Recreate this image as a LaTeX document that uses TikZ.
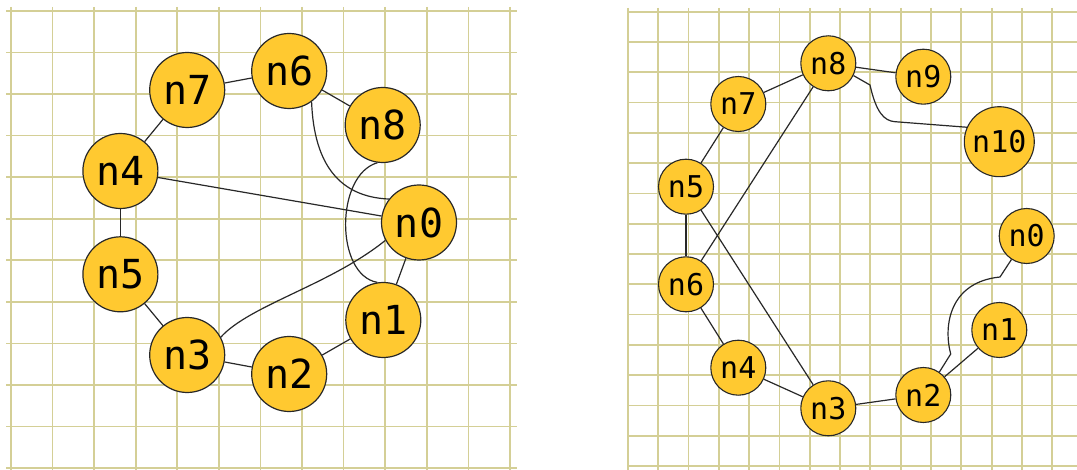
\documentclass[tikz,border=0pt]{standalone}
\usepackage{fontspec}
\setmonofont{DejaVu Sans Mono}
\definecolor{gridc}{RGB}{212,207,150}
\definecolor{nodefill}{RGB}{255,201,48}
\definecolor{edgec}{RGB}{40,40,40}
\tikzset{
  gridline/.style={draw=gridc, line width=1.7pt},
  bignode/.style={circle, draw=edgec, line width=1.2pt, fill=nodefill, minimum size=75pt, inner sep=0pt, font=\fontsize{40}{40}\selectfont\ttfamily},
  smallnode/.style={circle, draw=edgec, line width=1.1pt, fill=nodefill, minimum size=55pt, inner sep=0pt, font=\fontsize{30}{30}\selectfont\ttfamily},
  edge/.style={draw=edgec, line width=1.2pt}
}
\begin{document}
\begin{tikzpicture}[x=1pt,y=-1pt]
\useasboundingbox[fill=white] (0,0) rectangle (1077,470);
% left grid
\foreach \k in {0,...,11} \draw[gridline] (6,{11+41.55*\k}) -- (517,{11+41.55*\k});
\foreach \k in {0,...,12} \draw[gridline] ({11+41.58*\k},7) -- ({11+41.58*\k},470);
% right grid
\foreach \k in {0,...,15} \draw[gridline] (627,{11.7+30.29*\k}) -- (1077,{11.7+30.29*\k});
\foreach \k in {0,...,14} \draw[gridline] ({627.7+30.33*\k},8) -- ({627.7+30.33*\k},470);

% left graph edges
\begin{scope}
\path (187.2,90) coordinate (pL7) (289.2,71) coordinate (pL6) (382.7,125) coordinate (pL8)
      (120.4,171) coordinate (pL4) (419,222.5) coordinate (pL0) (120.4,274.3) coordinate (pL5)
      (383.3,320) coordinate (pL1) (187.2,355) coordinate (pL3) (289.2,374) coordinate (pL2);
\end{scope}
\node[bignode] (L7) at (pL7) {n7};
\node[bignode] (L6) at (pL6) {n6};
\node[bignode] (L8) at (pL8) {n8};
\node[bignode] (L4) at (pL4) {n4};
\node[bignode] (L0) at (pL0) {n0};
\node[bignode] (L5) at (pL5) {n5};
\node[bignode] (L1) at (pL1) {n1};
\node[bignode] (L3) at (pL3) {n3};
\node[bignode] (L2) at (pL2) {n2};
\begin{scope}[on background layer/.style={}]
\end{scope}

% right graph
\node[smallnode] (R8) at (828.3,63.3) {n8};
\node[smallnode] (R9) at (923.3,76.7) {n9};
\node[smallnode] (R7) at (738.3,104) {n7};
\node[smallnode, minimum size=70pt] (R10) at (999.3,141.7) {n10};
\node[smallnode] (R5) at (686,186.7) {n5};
\node[smallnode] (R0) at (1026.7,236) {n0};
\node[smallnode] (R6) at (686,284.3) {n6};
\node[smallnode] (R1) at (999.3,330) {n1};
\node[smallnode] (R4) at (738.3,367.7) {n4};
\node[smallnode] (R3) at (828.3,408.3) {n3};
\node[smallnode] (R2) at (923.3,395) {n2};

% left edges
\draw[edge] (L7) -- (L6);
\draw[edge] (L7) -- (L4);
\draw[edge] (L6) -- (L8);
\draw[edge] (L4) -- (L0);
\draw[edge] (L4) -- (L5);
\draw[edge] (L5) -- (L3);
\draw[edge] (L3) -- (L2);
\draw[edge] (L2) -- (L1);
\draw[edge] (L1) -- (L0);
\draw[edge] (L6.-54) .. controls (314,165) and (340,197) .. (L0.142);
\draw[edge] (L8.-98) .. controls (335,175) and (335,275) .. (L1.99);
\draw[edge] (L3.28) .. controls (250,305) and (330,285) .. (L0.208);

% right edges
\draw[edge] (R8) -- (R9);
\draw[edge] (R8) -- (R7);
\draw[edge] (R7) -- (R5);
\draw[edge] (R5) -- (R6);
\draw[edge] (R6) -- (R4);
\draw[edge] (R4) -- (R3);
\draw[edge] (R3) -- (R2);
\draw[edge] (R2) -- (R1);
\draw[edge] (R5) -- (R3);
\draw[edge] (R6) -- (R8);
\draw[edge] (R8.-26) -- (870,85) .. controls (876,112) and (884,121) .. (895,121.7) -- (R10.156);
\draw[edge] (R2.55) -- (950.7,354) .. controls (943,325) and (950,282) .. (1000,277) -- (R0.-123);
\end{tikzpicture}
\end{document}
